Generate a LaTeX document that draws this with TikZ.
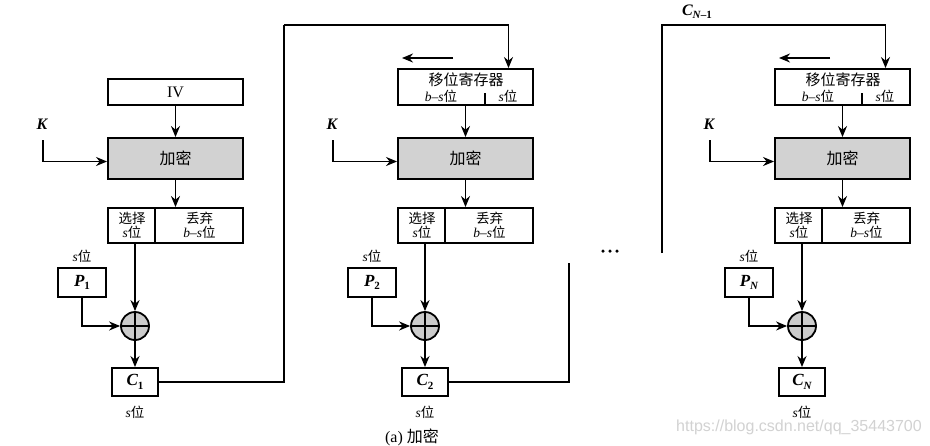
\documentclass[tikz,border=0pt]{standalone}
\usepackage{fontspec}
\setmainfont{Liberation Serif}
\newfontfamily\cjk{Noto Sans CJK SC}
\newfontfamily\wmfont{Liberation Sans}
\usetikzlibrary{arrows.meta}
\newcommand\wei{{\cjk 位}}
\newcommand\bitxt[1]{{\bfseries\itshape #1}}
\newcommand\subx[1]{\raisebox{-0.45ex}{\fontsize{11}{11}\selectfont #1}}
\begin{document}
\begin{tikzpicture}[x=1pt,y=-1pt,
  blk/.style={draw, line width=1.9pt, inner sep=0pt},
  encbox/.style={blk, fill=gray!35},
  ln/.style={line width=1.6pt},
  arr/.style={ln, -{Stealth[length=11pt,width=9pt]}},
  xorc/.style={circle, draw, line width=1.8pt, fill=gray!40, minimum size=28pt, inner sep=0pt,
    path picture={\draw[line width=1.4pt] (path picture bounding box.north) -- (path picture bounding box.south)
      (path picture bounding box.west) -- (path picture bounding box.east);}},
  lbl/.style={inner sep=0pt, font=\fontsize{13.5}{14}\selectfont},
  big/.style={inner sep=0pt, font=\fontsize{16}{16}\selectfont},
  dotc/.style={circle, fill=black, inner sep=0pt, minimum size=3.5pt},
]
\fill[white] (0,0) rectangle (930,445);
\useasboundingbox (0,0) rectangle (930,445);

% common parts of the three stages
\foreach \o/\n/\sub in {0/1/\textbf{1}, 290/2/\textbf{2}, 667/3/\bitxt{N}} {
  \begin{scope}[xshift=\o pt]
    \node[encbox, minimum width=135pt, minimum height=41pt] (enc\n) at (175.5,158.5) {\fontsize{16}{16}\selectfont\cjk 加密};
    \node[blk, minimum width=135pt, minimum height=35pt] (sel\n) at (175.5,225.5) {};
    \draw[line width=1.6pt] ([xshift=48pt]sel\n.north west) -- ([xshift=48pt]sel\n.south west);
    \node[lbl, align=center] (selA\n) at (132,225.5) {{\cjk 选择}\\\textit{s}\wei};
    \node[lbl, align=center] (selB\n) at (199.5,225.5) {{\cjk 丢弃}\\\textit{b}–\textit{s}\wei};
    \node[xorc] (x\n) at (135,326) {};
    \node[blk, minimum width=48pt, minimum height=29pt, font=\fontsize{17}{17}\selectfont] (p\n) at (82,282.5) {\bitxt{P}\subx{\sub}};
    \node[lbl] (ps\n) at (82,256) {\textit{s}\wei};
    \node[blk, minimum width=46pt, minimum height=28pt, font=\fontsize{17}{17}\selectfont] (c\n) at (135,382) {\bitxt{C}\subx{\sub}};
    \node[lbl] (cs\n) at (135,412) {\textit{s}\wei};
    \node[big] (k\n) at (42,124) {\bitxt{K}};
    \coordinate (ks\n) at (43,140);
    \draw[arr] (ks\n) |- ([yshift=-3pt]enc\n.west);
    \draw[arr] (enc\n.south) -- (sel\n.north);
    \draw[arr] (x\n |- sel\n.south) -- (x\n.north);
    \draw[arr] (p\n.south) |- (x\n.west);
    \draw[arr] (x\n.south) -- (c\n.north);
  \end{scope}
}

% stage 1 top box
\node[blk, minimum width=135pt, minimum height=26pt, font=\fontsize{16}{16}\selectfont] (top1) at (175.5,92) {IV};
\draw[arr] (top1.south) -- (enc1.north);

% shift registers of stages 2 and 3
\foreach \o/\n in {290/2, 667/3} {
  \begin{scope}[xshift=\o pt]
    \node[blk, minimum width=135pt, minimum height=36pt] (top\n) at (175.5,87) {};
    \node[lbl, font=\fontsize{15}{15}\selectfont\cjk] (srt\n) at (176,80) {移位寄存器};
    \node[lbl] (srl\n) at (151,96) {\textit{b}–\textit{s}\wei};
    \node[lbl] (srr\n) at (218,96) {\textit{s}\wei};
    \draw[line width=1.3pt] ([xshift=88pt]top\n.south west) -- ++(0,-13);
    \coordinate (la\n) at (163,58);
    \coordinate (lb\n) at (112,58);
    \draw[arr] (la\n) -- (lb\n);
    \coordinate (in\n) at ([xshift=43pt]top\n.north);
    \draw[arr] (top\n.south) -- (enc\n.north);
  \end{scope}
}

% feedback connections
\coordinate (b1) at (284,25);
\draw[ln] (c1.east) -| (b1);
\draw[arr] (b1) -| (in2);
\coordinate (e2) at (569,263);
\draw[ln] (c2.east) -| (e2);
\coordinate (s3) at (662,253);
\coordinate (b3) at (662,25);
\draw[arr] (s3) -- (b3) -| (in3);
\node[big] (cn1) at (697,12) {\bitxt{C}\subx{\bitxt{N}\textbf{–1}}};

% ellipsis
\node[dotc] (d1) at (603,251) {};
\node[dotc] (d2) at (610,251) {};
\node[dotc] (d3) at (617,251) {};

\node[big] (cap) at (412,437) {(a) {\cjk 加密}};
\node[inner sep=0pt, text=gray!35, font=\fontsize{16}{16}\selectfont\wmfont] (wm) at (799,427) {https://blog.csdn.net/qq\_35443700};
\end{tikzpicture}
\end{document}
